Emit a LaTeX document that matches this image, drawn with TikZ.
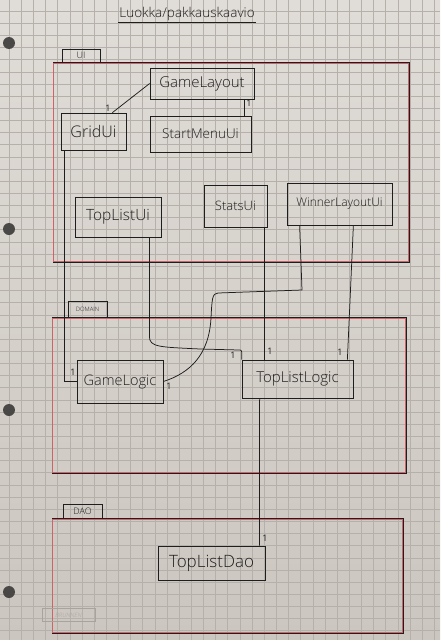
\documentclass[tikz,border=0pt]{standalone}
\usepackage{fontspec}
\setmainfont{Open Sans}[UprightFont=* Light, ItalicFont=* Light Italic, BoldFont=*]
\usetikzlibrary{calc}
\definecolor{paper}{HTML}{E0DCD7}
\definecolor{paperdark}{HTML}{CBC6BF}
\definecolor{gridc}{HTML}{B5B0AA}
\definecolor{ink}{HTML}{1E1E1E}
\definecolor{redpen}{HTML}{D0636A}
\definecolor{holec}{HTML}{4A4846}
\definecolor{brandc}{HTML}{A8A39D}
\newcommand{\fs}[1]{\fontsize{#1}{#1}\selectfont}
\begin{document}
\begin{tikzpicture}[x=1pt,y=-1pt,
  cls/.style={draw=ink, line width=0.75pt, inner sep=0pt, text=ink},
  pkg/.style={draw=ink, line width=0.8pt, inner sep=0pt},
  tab/.style={draw=ink, line width=0.7pt, inner sep=0pt, text=ink},
  conn/.style={draw=ink, line width=0.75pt},
  mult/.style={text=ink, font=\fs{9}\bfseries, inner sep=0pt},
  redline/.style={draw=redpen, line width=0.55pt},
]
% sheet of squared paper
\useasboundingbox (0,0) rectangle (440,640);
\fill[top color=paper, bottom color=paperdark] (0,0) rectangle (440,640);
\foreach \i in {0,...,36} \draw[gridc, line width=0.5pt] ({9+12.15*\i},0) -- ++(0,640);
\foreach \j in {0,...,52} \draw[gridc, line width=0.5pt] (0,{11+12.15*\j}) -- ++(440,0);
\foreach \y in {43,229,410,592} \fill[holec] (9,\y) circle (6pt);

% title
\node[text=ink, font=\fs{13.5}, inner sep=1pt] (title) at (187,14) {Luokka/pakkauskaavio};
\draw[ink, line width=0.7pt] (title.south west) -- (title.south east);

% packages
\node[pkg, minimum width=356pt, minimum height=200pt] (ui) at (231,162) {};
\draw[redline] ([shift={(1,1.2)}]ui.north west) rectangle ([shift={(-1,-1.2)}]ui.south east);
\node[tab, minimum width=38pt, minimum height=13pt, font=\fs{9}] (uitab) at (81,55.5) {UI};

\node[pkg, minimum width=354pt, minimum height=156pt] (domain) at (229,395) {};
\draw[redline] ([shift={(1,1.2)}]domain.north west) rectangle ([shift={(-1,-1.2)}]domain.south east);
\node[tab, minimum width=39pt, minimum height=16pt, font=\fs{6}] (domaintab) at (87.5,309) {DOMAIN};

\node[pkg, minimum width=351pt, minimum height=115pt] (dao) at (227.5,575.5) {};
\draw[redline] ([shift={(1,1.2)}]dao.north west) rectangle ([shift={(-1,-1.2)}]dao.south east);
\node[tab, minimum width=39pt, minimum height=14pt, font=\fs{9}] (daotab) at (82.5,511) {DAO};

% classes
\node[cls, minimum width=104pt, minimum height=31pt, font=\fs{15}] (gamelayout) at (202,83.5) {GameLayout};
\node[cls, minimum width=65pt, minimum height=37pt, font=\fs{16}] (gridui) at (93.5,131.5) {GridUi};
\node[cls, minimum width=101pt, minimum height=36pt, font=\fs{13.5}] (startmenuui) at (200.5,134) {StartMenuUi};
\node[cls, minimum width=86pt, minimum height=40pt, font=\fs{15.5}] (toplistui) at (118,217) {TopListUi};
\node[cls, minimum width=63pt, minimum height=42pt, font=\fs{13}] (statsui) at (235.5,206) {StatsUi};
\node[cls, minimum width=105pt, minimum height=42pt, font=\fs{12}] (winnerlayoutui) at (339.5,204) {WinnerLayoutUi};
\node[cls, minimum width=86pt, minimum height=43pt, font=\fs{14.5}] (gamelogic) at (120,381.5) {GameLogic};
\node[cls, minimum width=111pt, minimum height=38pt, font=\fs{15}] (toplistlogic) at (297.5,379) {TopListLogic};
\node[cls, minimum width=107pt, minimum height=34pt, font=\fs{17}] (toplistdao) at (211.5,563) {TopListDao};

% associations
\draw[conn] (gamelayout.west) -- ([xshift=-14pt]gridui.north east);
\draw[conn] ([xshift=-10pt]gamelayout.south east) -- ([xshift=-10pt]gamelayout.south east |- startmenuui.north);
\draw[conn] ([xshift=4pt]gridui.south west) |- (gamelogic.west);
\draw[conn] ([xshift=-12pt]toplistui.south east) -- ++(0,99)
  .. controls +(0,11) and (160,347) .. (200,349) -- (239,350)
  .. controls (242,350) .. (toplistlogic.north west);
\draw[conn] ([xshift=-3pt]statsui.south east) -- ([xshift=-3pt]statsui.south east |- toplistlogic.north);
\draw[conn] ([xshift=-39pt]winnerlayoutui.south east) -- ([xshift=-6pt]toplistlogic.north east);
\draw[conn] ([xshift=13pt]winnerlayoutui.south west) -- (302,290) -- (218,293)
  .. controls (212,293) and (212,300) .. (211,318)
  .. controls (209,355) and (190,373) .. (gamelogic.east);
\draw[conn] ([xshift=18pt]toplistlogic.south west) -- ([xshift=-6pt]toplistdao.north east);

% multiplicities
\node[mult] (m1) at (108,108) {1};
\node[mult] (m2) at (249,103) {1};
\node[mult] (m3) at (73,372) {1};
\node[mult] (m4) at (169,386) {1};
\node[mult] (m5) at (233,355) {1};
\node[mult] (m6) at (270,351) {1};
\node[mult] (m7) at (340,352) {1};
\node[mult] (m8) at (265,538) {1};

% printed brand mark
\node[draw=brandc, line width=0.6pt, text=brandc, font=\fs{6}\itshape, minimum width=53pt, minimum height=13pt, inner sep=0pt] (brand) at (68.5,615) {BRUNNEN};
\end{tikzpicture}
\end{document}
